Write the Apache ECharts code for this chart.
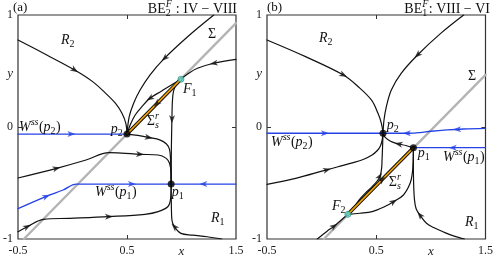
<!DOCTYPE html>
<html><head><meta charset="utf-8">
<script src="https://cdn.jsdelivr.net/npm/echarts@6/dist/echarts.min.js"></script>
<style>html,body{margin:0;padding:0;background:#fff}#c{width:496px;height:259px}</style>
</head><body><div id="c"></div>
<script>
// ---------------- data ----------------
const xTickLabels = [-0.5, 0.5, 1.5];
const yTickLabels = [-1, 0, 1];

// Panel (a)
const a_sigma = [[-0.446,-1],[1.5,0.927]];
const a_sliding = [[0.995,0.427],[0.5,-0.063]];
const a_eq = [[0.905,-0.51],[0.5,-0.063]];   // p1, p2
const a_focus = [[0.995,0.427]];             // F1
const a_R2curve = [[-0.5,0.777],[-0.236,0.643],[0.02,0.509],[0.185,0.405],[0.305,0.3],[0.395,0.21],[0.455,0.12],[0.49,0.03],[0.5,-0.063]];
const a_topCurve = [[1.296,1.0],[1.056,0.806],[0.83,0.6],[0.71,0.464],[0.62,0.33],[0.56,0.21],[0.52,0.09],[0.5,-0.063]];
const a_rightCurve = [[1.5,0.604],[1.296,0.569],[1.146,0.524],[1.056,0.473],[0.995,0.427]];
const a_F1toP2 = [[0.995,0.427],[0.9,0.37],[0.815,0.32],[0.71,0.256],[0.635,0.18],[0.575,0.107],[0.53,0.02],[0.5,-0.063]];
const a_vertical = [[0.995,0.427],[0.935,0.345],[0.918,0.25],[0.912,0.06],[0.907,-0.2],[0.905,-0.51]];
const a_p2right = [[0.5,-0.063],[0.6,-0.075],[0.71,-0.095],[0.8,-0.115],[0.86,-0.15],[0.89,-0.2],[0.9,-0.3],[0.905,-0.51]];
const a_leftMid = [[-0.5,-0.455],[-0.146,-0.369],[0.124,-0.295],[0.335,-0.229],[0.45,-0.233],[0.62,-0.244],[0.786,-0.25],[0.86,-0.28],[0.89,-0.324],[0.905,-0.413],[0.905,-0.51]];
const a_bottomLeft = [[-0.5,-0.935],[-0.415,-0.89],[-0.266,-0.824],[-0.025,-0.815],[0.335,-0.8],[0.665,-0.78],[0.786,-0.756],[0.876,-0.71],[0.9,-0.64],[0.905,-0.51]];
const a_bottomRight = [[1.37,-1.0],[1.236,-0.98],[1.1,-0.965],[0.995,-0.95],[0.935,-0.89],[0.912,-0.83],[0.907,-0.7],[0.905,-0.51]];
const a_wss2 = [[-0.5,-0.063],[0.5,-0.063]];
const a_wss1Left = [[-0.5,-0.729],[-0.24,-0.619],[-0.086,-0.5625],[0.035,-0.51],[0.905,-0.51]];
const a_wss1Right = [[1.5,-0.51],[0.905,-0.51]];

// Panel (b)
const b_sigma = [[0.02,-1],[1.5,0.465]];
const b_sliding = [[0.24,-0.78],[0.84,-0.185]];
const b_eq = [[0.84,-0.185],[0.562,-0.056]];  // p1, p2
const b_focus = [[0.24,-0.78]];              // F2
const b_R2curve = [[-0.5,0.777],[-0.147,0.628],[0.2,0.464],[0.335,0.36],[0.457,0.24],[0.516,0.122],[0.547,0.033],[0.562,-0.056]];
const b_topCurve = [[1.3,1.0],[1.09,0.836],[0.878,0.643],[0.728,0.479],[0.638,0.33],[0.592,0.18],[0.571,0.0625],[0.562,-0.056]];
const b_p1toP2 = [[0.84,-0.185],[0.77,-0.165],[0.704,-0.152],[0.65,-0.135],[0.613,-0.116],[0.58,-0.09],[0.562,-0.056]];
const b_leftCurve = [[-0.5,-0.512],[-0.238,-0.458],[0.02,-0.39],[0.15,-0.355],[0.281,-0.32],[0.38,-0.29],[0.462,-0.25],[0.51,-0.21],[0.538,-0.17],[0.555,-0.11],[0.562,-0.056]];
const b_F2toP2 = [[0.24,-0.78],[0.3,-0.71],[0.342,-0.652],[0.4,-0.59],[0.462,-0.533],[0.51,-0.48],[0.538,-0.43],[0.55,-0.36],[0.553,-0.295],[0.557,-0.2],[0.562,-0.056]];
const b_F2toP1 = [[0.24,-0.78],[0.35,-0.77],[0.462,-0.756],[0.57,-0.715],[0.658,-0.667],[0.749,-0.607],[0.81,-0.503],[0.83,-0.413],[0.838,-0.3],[0.84,-0.185]];
const b_bottomRight = [[1.307,-1.0],[1.2,-0.97],[1.11,-0.935],[1.03,-0.9],[0.96,-0.86],[0.9,-0.786],[0.865,-0.73],[0.85,-0.65],[0.842,-0.5],[0.84,-0.35],[0.84,-0.185]];
const b_bottomToF2 = [[-0.04,-1.0],[0.05,-0.93],[0.115,-0.885],[0.18,-0.83],[0.24,-0.78]];
const b_wss2Left = [[-0.5,-0.056],[0.562,-0.056]];
const b_wss2Right = [[1.5,-0.012],[1.3,-0.018],[1.15,-0.026],[1.0,-0.038],[0.9,-0.05],[0.8,-0.056],[0.562,-0.056]];
const b_wss1 = [[1.5,-0.185],[0.84,-0.185]];

// arrow locations per trajectory
const panelA = {
  grid: {left:14, top:15, width:222, height:224},
  sigma: a_sigma, sliding: a_sliding, slidingArrows: [[0.77,0.21]],
  eq: a_eq, focus: a_focus,
  black: [
    {d:a_R2curve, arr:[[0.02,0.509]]},
    {d:a_topCurve, arr:[[0.845,0.613]]},
    {d:a_rightCurve, arr:[[1.296,0.569]]},
    {d:a_F1toP2, arr:[[0.71,0.256]]},
    {d:a_vertical, arr:[[0.912,0.07]]},
    {d:a_p2right, arr:[[0.7,-0.093]]},
    {d:a_leftMid, arr:[[-0.146,-0.369],[0.62,-0.244]]},
    {d:a_bottomLeft, arr:[[-0.415,-0.89],[0.335,-0.8]]},
    {d:a_bottomRight, arr:[[0.935,-0.89]]}
  ],
  blue: [
    {d:a_wss2, arr:[[-0.01,-0.063]]},
    {d:a_wss1Left, arr:[[-0.24,-0.619],[0.545,-0.51]]},
    {d:a_wss1Right, arr:[[1.2,-0.51]]}
  ]
};
const panelB = {
  grid: {left:267, top:15, width:221, height:224},
  sigma: b_sigma, sliding: b_sliding, slidingArrows: [[0.553,-0.47]],
  eq: b_eq, focus: b_focus,
  black: [
    {d:b_R2curve, arr:[[0.2,0.464]]},
    {d:b_topCurve, arr:[[0.878,0.643]]},
    {d:b_p1toP2, arr:[[0.704,-0.152]]},
    {d:b_leftCurve, arr:[[0.05,-0.384]]},
    {d:b_F2toP2, arr:[[0.535,-0.44]]},
    {d:b_F2toP1, arr:[[0.66,-0.667]]},
    {d:b_bottomRight, arr:[[0.9,-0.786]]},
    {d:b_bottomToF2, arr:[[0.115,-0.885]]}
  ],
  blue: [
    {d:b_wss2Left, arr:[[0.03,-0.056]]},
    {d:b_wss2Right, arr:[[0.78,-0.056],[1.24,-0.022]]},
    {d:b_wss1, arr:[[1.2,-0.185]]}
  ]
};

// ---------------- styling / build ----------------
const FONT = '"Liberation Serif","DejaVu Serif",serif';
const BLACK = '#111111', BLUE = '#2442e6', GRAY = '#b4b4b4', ORANGE = '#f5a300', CYAN = '#62dccf', AX = '#333333';
const ARROW = 'path://M0,10 L5,0 L10,10 L5,7.5 Z';

function arrowData(pts, list, g) {
  const sx = g.width / 2, sy = g.height / 2;
  return list.map(([px, py]) => {
    let best = null;
    for (let i = 0; i < pts.length - 1; i++) {
      const ax = pts[i][0]*sx, ay = pts[i][1]*sy, bx = pts[i+1][0]*sx, by = pts[i+1][1]*sy;
      const qx = px*sx, qy = py*sy;
      const dx = bx-ax, dy = by-ay, L2 = dx*dx+dy*dy || 1;
      let t = ((qx-ax)*dx + (qy-ay)*dy)/L2; t = Math.max(0, Math.min(1, t));
      const cx = ax+t*dx, cy = ay+t*dy, dd = (cx-qx)**2 + (cy-qy)**2;
      if (!best || dd < best.dd) best = {dd, x:cx/sx, y:cy/sy, ang: Math.atan2(dy, dx)*180/Math.PI};
    }
    return {value:[best.x, best.y], symbolRotate: best.ang - 90};
  });
}

const fmt = v => String(v);
const grids = [], xAxes = [], yAxes = [], series = [];
[panelA, panelB].forEach((P, k) => {
  grids.push(Object.assign({show:true, borderColor:AX, borderWidth:1.2, backgroundColor:'transparent', containLabel:false}, P.grid));
  const tickStyle = {color:AX, width:1};
  const noLine = {show:false, onZero:false};
  xAxes.push({gridIndex:k, type:'value', min:-0.5, max:1.5, interval:0.5, position:'bottom',
    axisLine:noLine, splitLine:{show:false},
    axisTick:{show:true, inside:true, length:4, customValues:[0.5], lineStyle:tickStyle},
    axisLabel:{customValues:[-0.5,0.5,1,1.5], margin:6, fontFamily:FONT, fontSize:12, color:'#222',
      formatter: v => Math.abs(v-1) < 1e-9 ? '{i|x}' : fmt(v),
      rich:{i:{fontStyle:'italic', fontFamily:FONT, fontSize:13, color:'#222'}}}});
  xAxes.push({gridIndex:k, type:'value', min:-0.5, max:1.5, interval:0.5, position:'top',
    axisLine:noLine, splitLine:{show:false},
    axisTick:{show:true, inside:true, length:4, customValues:[0.5], lineStyle:tickStyle},
    axisLabel:{show:false}});
  yAxes.push({gridIndex:k, type:'value', min:-1, max:1, interval:0.5, position:'left',
    axisLine:noLine, splitLine:{show:false},
    axisTick:{show:true, inside:true, length:4, customValues:[0], lineStyle:tickStyle},
    axisLabel:{customValues:[-1,0,0.48,1], margin:5, fontFamily:FONT, fontSize:12, color:'#222',
      formatter: v => Math.abs(v-0.48) < 1e-9 ? '{i|y}' : fmt(v),
      rich:{i:{fontStyle:'italic', fontFamily:FONT, fontSize:13, color:'#222'}}}});
  yAxes.push({gridIndex:k, type:'value', min:-1, max:1, interval:0.5, position:'right',
    axisLine:noLine, splitLine:{show:false},
    axisTick:{show:true, inside:true, length:4, customValues:[0], lineStyle:tickStyle},
    axisLabel:{show:false}});
  const xi = 2*k, yi = 2*k;
  const line = (d, color, width, z, smooth) => ({type:'line', xAxisIndex:xi, yAxisIndex:yi, data:d,
    showSymbol:false, symbol:'none', smooth: smooth, z:z, silent:true, animation:false,
    lineStyle:{color, width, cap:'round', join:'round'}});
  series.push(line(P.sigma, GRAY, 2.4, 1, false));
  P.black.forEach(t => series.push(line(t.d, BLACK, 1.2, 2, 0.35)));
  P.blue.forEach(t => series.push(line(t.d, BLUE, 1.3, 3, 0.35)));
  series.push(line(P.sliding, BLACK, 3.6, 4, false));
  series.push(line(P.sliding, ORANGE, 1.6, 5, false));
  let blackArr = [], blueArr = [];
  P.black.forEach(t => blackArr = blackArr.concat(arrowData(t.d, t.arr, P.grid)));
  blackArr = blackArr.concat(arrowData(P.sliding, P.slidingArrows, P.grid));
  P.blue.forEach(t => blueArr = blueArr.concat(arrowData(t.d, t.arr, P.grid)));
  series.push({type:'scatter', xAxisIndex:xi, yAxisIndex:yi, data:blackArr, symbol:ARROW, symbolSize:[6,8],
    itemStyle:{color:BLACK}, z:6, silent:true, animation:false});
  series.push({type:'scatter', xAxisIndex:xi, yAxisIndex:yi, data:blueArr, symbol:ARROW, symbolSize:[6,8],
    itemStyle:{color:BLUE}, z:6, silent:true, animation:false});
  series.push({type:'scatter', xAxisIndex:xi, yAxisIndex:yi, data:P.eq, symbol:'circle', symbolSize:7,
    itemStyle:{color:'#000'}, z:7, silent:true, animation:false});
  series.push({type:'scatter', xAxisIndex:xi, yAxisIndex:yi, data:P.focus, symbol:'circle', symbolSize:6,
    itemStyle:{color:CYAN, borderColor:'#2b7a73', borderWidth:0.8}, z:7, silent:true, animation:false});
});

// ---------------- text annotations ----------------
const mctx = document.createElement('canvas').getContext('2d');
const fontOf = (it, size) => (it ? 'italic ' : '') + size + 'px ' + FONT;
const tw = (t, f) => { mctx.font = f; return mctx.measureText(t).width; };
function mathLabel(x, y, anchor, segs, size) {
  size = size || 14;
  const small = Math.round(size*0.68);
  let cx = 0; const items = [];
  segs.forEach(s => {
    if (s.t !== undefined) { const f = fontOf(s.i, size); items.push({text:s.t, x:cx, dy:0, f}); cx += tw(s.t, f); }
    else {
      let wm = 0;
      if (s.sub !== undefined) { const f = fontOf(s.subI, small); items.push({text:s.sub, x:cx, dy:size*0.3, f}); wm = Math.max(wm, tw(s.sub, f)); }
      if (s.sup !== undefined) { const f = fontOf(s.supI, small); items.push({text:s.sup, x:cx, dy:-size*0.36, f}); wm = Math.max(wm, tw(s.sup, f)); }
      cx += wm + 0.5;
    }
  });
  const x0 = anchor === 'left' ? x : anchor === 'right' ? x - cx : x - cx/2;
  return items.map(it => ({type:'text', x:x0 + it.x, y:y + it.dy, z:100, silent:true,
    style:{text:it.text, font:it.f, fill:'#111', align:'left', textAlign:'left', verticalAlign:'middle', textVerticalAlign:'middle'}}));
}
const R = n => [{t:'R', i:1}, {sub:n}];
const P_ = n => [{t:'p', i:1}, {sub:n}];
const F_ = n => [{t:'F', i:1}, {sub:n}];
const W_ = n => [{t:'W', i:1}, {sup:'ss', supI:1}, {t:'('}, {t:'p', i:1}, {sub:n}, {t:')'}];
const SIGS = [{t:'Σ'}, {sub:'s', subI:1, sup:'r', supI:1}];
const labels = [
  [13, 8, 'left', [{t:'(a)'}], 13],
  [237, 9, 'right', [{t:'BE'}, {sub:'2', sup:'F', supI:1}, {t:' : IV − VIII'}], 14],
  [68, 40, 'center', R('2')],
  [212, 34, 'center', [{t:'Σ'}]],
  [190, 89, 'center', F_('1')],
  [153, 121, 'center', SIGS],
  [117, 129, 'center', P_('2')],
  [19, 127, 'left', W_('2')],
  [95, 192, 'left', W_('1')],
  [178, 192, 'center', P_('1')],
  [218, 218, 'center', R('1')],
  [267, 8, 'left', [{t:'(b)'}], 13],
  [490, 9, 'right', [{t:'BE'}, {sub:'1', sup:'F', supI:1}, {t:': VIII − VI'}], 14],
  [326, 38, 'center', R('2')],
  [472, 76, 'center', [{t:'Σ'}]],
  [393, 125, 'center', P_('2')],
  [271, 142, 'left', W_('2')],
  [424, 153, 'center', P_('1')],
  [443, 157, 'left', W_('1')],
  [395, 182, 'center', SIGS],
  [339, 206, 'center', F_('2')],
  [472, 222, 'center', R('1')]
];
let graphic = [];
labels.forEach(l => graphic = graphic.concat(mathLabel(l[0], l[1], l[2], l[3], l[4])));

const chart = echarts.init(document.getElementById('c'), null, {renderer:'canvas'});
chart.setOption({animation:false, backgroundColor:'#fff', grid:grids, xAxis:xAxes, yAxis:yAxes, series:series, graphic:graphic});
</script></body></html>
